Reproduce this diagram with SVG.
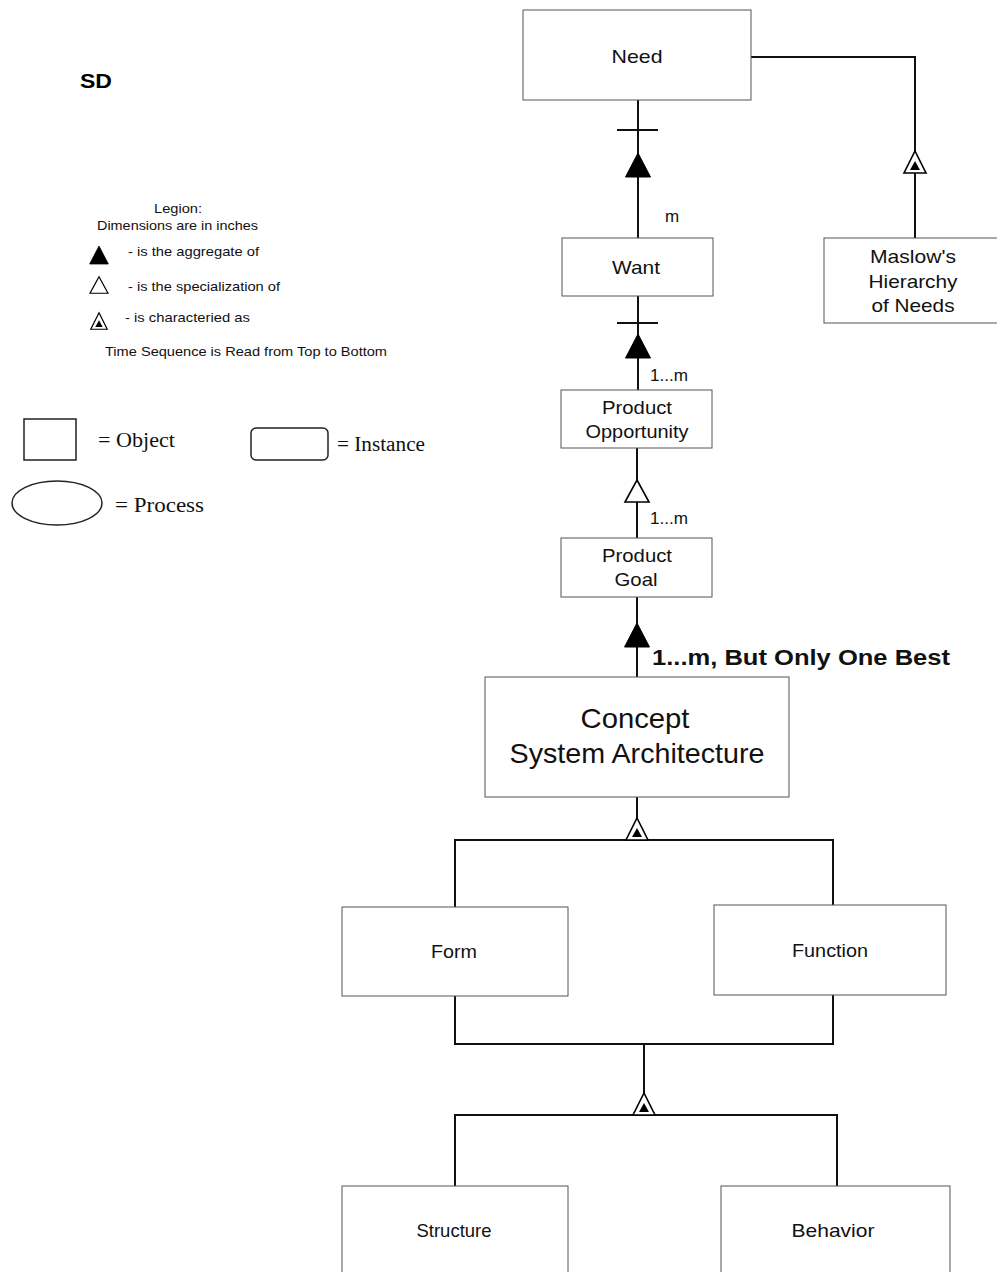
<svg xmlns="http://www.w3.org/2000/svg" xmlns:xlink="http://www.w3.org/1999/xlink" width="997" height="1272" viewBox="0 0 997 1272">
  <style>
    .box { fill: #fff; stroke: #555; stroke-width: 1; }
    .lbl { font-family: "Liberation Sans", Arial, sans-serif; font-size: 19px; fill: #111; text-anchor: middle; }
    .big { font-size: 28px; }
    .card { font-family: "Liberation Sans", Arial, sans-serif; font-size: 17px; fill: #111; }
    .leg { font-family: "Liberation Sans", Arial, sans-serif; font-size: 13px; fill: #111; }
    .tim { font-family: "Liberation Serif", "Times New Roman", serif; font-size: 20px; fill: #111; }
    .wire { fill: none; stroke: #111; stroke-width: 2; }
    .legshape { fill: none; stroke: #222; stroke-width: 1.5; }
  </style>
  <defs>
    <!-- aggregation: solid triangle, apex up, centred on origin -->
    <path id="agg" d="M0,-12 L12.5,12 L-12.5,12 Z" fill="#000" stroke="#000" stroke-width="1"/>
    <!-- specialization: hollow triangle -->
    <path id="spec" d="M0,-11 L12,11 L-12,11 Z" fill="#fff" stroke="#000" stroke-width="1.6"/>
    <!-- characterization: hollow triangle with small solid triangle inside -->
    <g id="char">
      <path d="M0,-11 L11,11 L-11,11 Z" fill="#fff" stroke="#000" stroke-width="1.6"/>
      <path d="M0,-1 L5,8 L-5,8 Z" fill="#000"/>
    </g>
  </defs>

  <!-- title and legend -->
  <g id="legend">
    <text x="80" y="88" font-family="Liberation Sans, Arial, sans-serif" font-size="21" font-weight="bold" textLength="32" lengthAdjust="spacingAndGlyphs">SD</text>
    <text class="leg" x="154" y="213" textLength="48" lengthAdjust="spacingAndGlyphs">Legion:</text>
    <text class="leg" x="97" y="230" textLength="161" lengthAdjust="spacingAndGlyphs">Dimensions are in inches</text>
    <use xlink:href="#agg" transform="translate(99,255) scale(0.75)"/>
    <text class="leg" x="128" y="256" textLength="131" lengthAdjust="spacingAndGlyphs">- is the aggregate of</text>
    <use xlink:href="#spec" transform="translate(99,285) scale(0.75)"/>
    <text class="leg" x="128" y="291" textLength="152" lengthAdjust="spacingAndGlyphs">- is the specialization of</text>
    <use xlink:href="#char" transform="translate(99,321) scale(0.75)"/>
    <text class="leg" x="125" y="322" textLength="125" lengthAdjust="spacingAndGlyphs">- is characteried as</text>
    <text class="leg" x="105" y="356" textLength="282" lengthAdjust="spacingAndGlyphs">Time Sequence is Read from Top to Bottom</text>

    <rect class="legshape" x="24" y="419" width="52" height="41"/>
    <text class="tim" x="98" y="447" textLength="77" lengthAdjust="spacingAndGlyphs">= Object</text>
    <rect class="legshape" x="251" y="428" width="77" height="32" rx="5"/>
    <text class="tim" x="337" y="451" textLength="88" lengthAdjust="spacingAndGlyphs">= Instance</text>
    <ellipse class="legshape" cx="57" cy="503" rx="45" ry="22"/>
    <text class="tim" x="115" y="512" textLength="89" lengthAdjust="spacingAndGlyphs">= Process</text>
  </g>

  <!-- connectors -->
  <g id="connectors">
    <!-- Need / Maslow -->
    <path class="wire" d="M751,57 H915 V238" stroke-width="1.6"/>
    <use xlink:href="#char" x="915" y="162"/>

    <!-- Need / Want -->
    <path class="wire" d="M638,100 V238"/>
    <path class="wire" d="M617,130 H658" stroke-width="1.6"/>
    <use xlink:href="#agg" x="638" y="165"/>
    <text class="card" x="665" y="222">m</text>

    <!-- Want / Product Opportunity -->
    <path class="wire" d="M638,296 V390"/>
    <path class="wire" d="M617,323 H658" stroke-width="1.6"/>
    <use xlink:href="#agg" x="638" y="346"/>
    <text class="card" x="650" y="381" textLength="38" lengthAdjust="spacingAndGlyphs">1...m</text>

    <!-- Product Opportunity / Product Goal -->
    <path class="wire" d="M637,448 V538" stroke-width="1.6"/>
    <use xlink:href="#spec" x="637" y="491"/>
    <text class="card" x="650" y="524" textLength="38" lengthAdjust="spacingAndGlyphs">1...m</text>

    <!-- Product Goal / Concept -->
    <path class="wire" d="M637,597 V677"/>
    <use xlink:href="#agg" x="637" y="635"/>
    <text x="652" y="665" font-family="Liberation Sans, Arial, sans-serif" font-size="22" font-weight="bold" fill="#111" textLength="298" lengthAdjust="spacingAndGlyphs">1...m, But Only One Best</text>

    <!-- Concept / Form, Function -->
    <path class="wire" d="M637,797 V830" stroke-width="1.6"/>
    <path class="wire" d="M455,907 V840 H833 V905"/>
    <use xlink:href="#char" x="637" y="829"/>

    <!-- Form, Function / Structure, Behavior -->
    <path class="wire" d="M455,996 V1044 H833 V995"/>
    <path class="wire" d="M644,1044 V1100" stroke-width="1.6"/>
    <path class="wire" d="M455,1186 V1115 H837 V1186"/>
    <use xlink:href="#char" x="644" y="1104"/>
  </g>

  <!-- nodes -->
  <g id="need">
    <rect class="box" x="523" y="10" width="228" height="90"/>
    <text class="lbl" x="637" y="63" textLength="51" lengthAdjust="spacingAndGlyphs">Need</text>
  </g>
  <g id="want">
    <rect class="box" x="562" y="238" width="151" height="58"/>
    <text class="lbl" x="636" y="274" textLength="48" lengthAdjust="spacingAndGlyphs">Want</text>
  </g>
  <g id="maslow">
    <rect class="box" x="824" y="238" width="180" height="85"/>
    <text class="lbl" x="913" y="263" textLength="86" lengthAdjust="spacingAndGlyphs">Maslow's</text>
    <text class="lbl" x="913" y="288" textLength="89" lengthAdjust="spacingAndGlyphs">Hierarchy</text>
    <text class="lbl" x="913" y="312" textLength="83" lengthAdjust="spacingAndGlyphs">of Needs</text>
  </g>
  <g id="product-opportunity">
    <rect class="box" x="561" y="390" width="151" height="58"/>
    <text class="lbl" x="637" y="414" textLength="70" lengthAdjust="spacingAndGlyphs">Product</text>
    <text class="lbl" x="637" y="438" textLength="103" lengthAdjust="spacingAndGlyphs">Opportunity</text>
  </g>
  <g id="product-goal">
    <rect class="box" x="561" y="538" width="151" height="59"/>
    <text class="lbl" x="637" y="562" textLength="70" lengthAdjust="spacingAndGlyphs">Product</text>
    <text class="lbl" x="636" y="586" textLength="43" lengthAdjust="spacingAndGlyphs">Goal</text>
  </g>
  <g id="concept">
    <rect class="box" x="485" y="677" width="304" height="120"/>
    <text class="lbl big" x="635" y="728" textLength="109" lengthAdjust="spacingAndGlyphs">Concept</text>
    <text class="lbl big" x="637" y="763" textLength="255" lengthAdjust="spacingAndGlyphs">System Architecture</text>
  </g>
  <g id="form">
    <rect class="box" x="342" y="907" width="226" height="89"/>
    <text class="lbl" x="454" y="958" textLength="46" lengthAdjust="spacingAndGlyphs">Form</text>
  </g>
  <g id="function">
    <rect class="box" x="714" y="905" width="232" height="90"/>
    <text class="lbl" x="830" y="957" textLength="76" lengthAdjust="spacingAndGlyphs">Function</text>
  </g>
  <g id="structure">
    <rect class="box" x="342" y="1186" width="226" height="100"/>
    <text class="lbl" x="454" y="1237" textLength="75" lengthAdjust="spacingAndGlyphs">Structure</text>
  </g>
  <g id="behavior">
    <rect class="box" x="721" y="1186" width="229" height="100"/>
    <text class="lbl" x="833" y="1237" textLength="83" lengthAdjust="spacingAndGlyphs">Behavior</text>
  </g>
</svg>
